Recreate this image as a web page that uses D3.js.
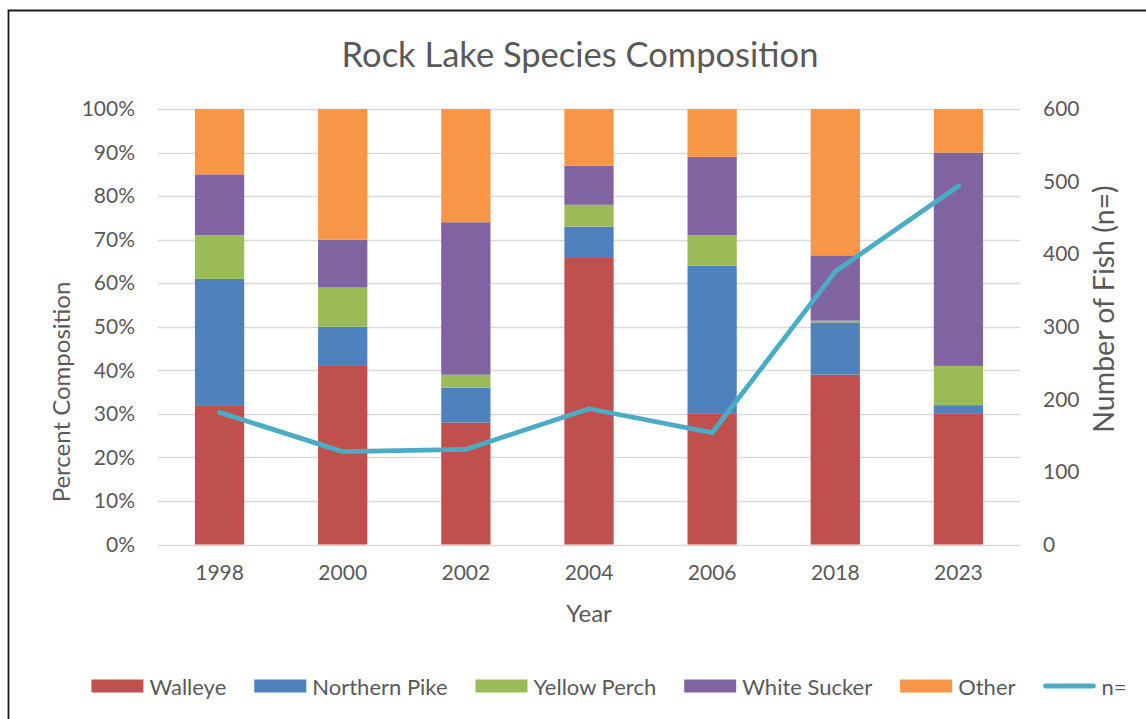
<!DOCTYPE html>
<html>
<head>
<meta charset="utf-8">
<script src="https://cdn.jsdelivr.net/npm/d3@7"></script>
<style>
  html, body { margin: 0; padding: 0; background: #fff; }
  svg { display: block; }
  text { font-family: Lato, "Open Sans", sans-serif; fill: #595959; }
</style>
</head>
<body>
<svg id="chart" width="1146" height="719"></svg>
<script>
// Survey years and species composition (percent of catch)
const years = ["1998", "2000", "2002", "2004", "2006", "2018", "2023"];
const walleye      = [32, 41, 28, 66, 30, 39, 30];
const northernPike = [29,  9,  8,  7, 34, 12,  2];
const yellowPerch  = [10,  9,  3,  5,  7, 0.4, 9];
const whiteSucker  = [14, 11, 35,  9, 18, 15, 49];
const other        = [15, 30, 26, 13, 11, 33.6, 10];
// Total fish sampled each year
const nFish = [182, 128, 131, 187, 154, 376, 494];

const speciesNames = ["Walleye", "Northern Pike", "Yellow Perch", "White Sucker", "Other"];
const speciesColors = ["#C0504D", "#4F81BD", "#9BBB59", "#8064A2", "#F79646"];
const lineColor = "#4BACC6";
const percentTicks = [0, 10, 20, 30, 40, 50, 60, 70, 80, 90, 100];
const countTicks = [0, 100, 200, 300, 400, 500, 600];

const svg = d3.select("#chart");

// Frame around the chart area
svg.append("path")
  .attr("d", "M8.5,730 V10.5 H1150")
  .attr("fill", "none")
  .attr("stroke", "#1a1a1a")
  .attr("stroke-width", 1.8);

const plot = { left: 158, right: 1020, top: 109, bottom: 544.5 };

const x = d3.scaleBand()
  .domain(years)
  .range([plot.left, plot.right])
  .paddingInner(0.6)
  .paddingOuter(0.3);

const y = d3.scaleLinear().domain([0, 100]).range([plot.bottom, plot.top]);
const y2 = d3.scaleLinear().domain([0, 600]).range([plot.bottom, plot.top]);

// Gridlines
svg.append("g")
  .selectAll("line")
  .data(percentTicks)
  .join("line")
  .attr("x1", plot.left)
  .attr("x2", plot.right)
  .attr("y1", d => Math.round(y(d)) + 0.5)
  .attr("y2", d => Math.round(y(d)) + 0.5)
  .attr("stroke", "#D9D9D9")
  .attr("stroke-width", 1.3);

// Left axis (percent)
const leftAxis = svg.append("g")
  .attr("transform", `translate(${plot.left},0)`)
  .call(d3.axisLeft(y).tickValues(percentTicks).tickFormat(d => d + "%").tickSize(0).tickPadding(23));
leftAxis.select(".domain").remove();
leftAxis.selectAll("text").style("font-size", "21px").attr("fill", "#595959").attr("font-family", null);

// Right axis (count)
const rightAxis = svg.append("g")
  .attr("transform", `translate(${plot.right},0)`)
  .call(d3.axisRight(y2).tickValues(countTicks).tickSize(0).tickPadding(23));
rightAxis.select(".domain").remove();
rightAxis.selectAll("text").style("font-size", "21px").attr("fill", "#595959").attr("font-family", null);

// Bottom axis (years)
const bottomAxis = svg.append("g")
  .attr("transform", `translate(0,${plot.bottom})`)
  .call(d3.axisBottom(x).tickSize(0).tickPadding(21));
bottomAxis.select(".domain").remove();
bottomAxis.selectAll("text").style("font-size", "21px").attr("fill", "#595959").attr("font-family", null);

// Stacked bars
const rows = years.map((yr, i) => ({
  year: yr,
  "Walleye": walleye[i],
  "Northern Pike": northernPike[i],
  "Yellow Perch": yellowPerch[i],
  "White Sucker": whiteSucker[i],
  "Other": other[i]
}));
const stacked = d3.stack().keys(speciesNames)(rows);

svg.append("g")
  .selectAll("g")
  .data(stacked)
  .join("g")
  .attr("fill", (d, i) => speciesColors[i])
  .selectAll("rect")
  .data(d => d)
  .join("rect")
  .attr("x", d => x(d.data.year))
  .attr("width", x.bandwidth())
  .attr("y", d => y(d[1]))
  .attr("height", d => y(d[0]) - y(d[1]));

// n= line on the secondary axis
const line = d3.line()
  .x((d, i) => x(years[i]) + x.bandwidth() / 2)
  .y(d => y2(d));

svg.append("path")
  .datum(nFish)
  .attr("d", line)
  .attr("fill", "none")
  .attr("stroke", lineColor)
  .attr("stroke-width", 4.8)
  .attr("stroke-linejoin", "round")
  .attr("stroke-linecap", "round");

// Titles
svg.append("text")
  .attr("x", 580).attr("y", 67)
  .attr("text-anchor", "middle")
  .style("font-size", "34.5px")
  .text("Rock Lake Species Composition");

svg.append("text")
  .attr("transform", "translate(70,392) rotate(-90)")
  .attr("text-anchor", "middle")
  .style("font-size", "24px")
  .text("Percent Composition");

svg.append("text")
  .attr("transform", "translate(1114,309) rotate(-90)")
  .attr("text-anchor", "middle")
  .style("font-size", "28.5px")
  .text("Number of Fish (n=)");

svg.append("text")
  .attr("x", 589).attr("y", 622)
  .attr("text-anchor", "middle")
  .style("font-size", "24px")
  .text("Year");

// Legend
const legendItems = speciesNames.map((name, i) => ({ name, color: speciesColors[i], type: "rect" }))
  .concat([{ name: "n=", color: lineColor, type: "line" }]);
const legendY = 686;
const swatchW = 52, swatchGap = 6, itemGap = 28;
const legend = svg.append("g");
const items = legend.selectAll("g").data(legendItems).join("g");
items.append("text")
  .attr("x", swatchW + swatchGap)
  .attr("y", legendY)
  .attr("dominant-baseline", "central")
  .style("font-size", "22px")
  .text(d => d.name);
const widths = [];
items.each(function () { widths.push(swatchW + swatchGap + this.querySelector("text").getComputedTextLength()); });
const total = d3.sum(widths) + itemGap * (widths.length - 1);
let cx = 609 - total / 2;
items.attr("transform", (d, i) => {
  const tx = cx;
  cx += widths[i] + itemGap;
  return `translate(${tx},0)`;
});
items.filter(d => d.type === "rect").append("rect")
  .attr("x", 0).attr("y", legendY - 6.5)
  .attr("width", swatchW).attr("height", 13)
  .attr("fill", d => d.color);
items.filter(d => d.type === "line").append("line")
  .attr("x1", 2).attr("x2", swatchW - 2)
  .attr("y1", legendY).attr("y2", legendY)
  .attr("stroke", d => d.color)
  .attr("stroke-width", 4.8)
  .attr("stroke-linecap", "round");
</script>
</body>
</html>
